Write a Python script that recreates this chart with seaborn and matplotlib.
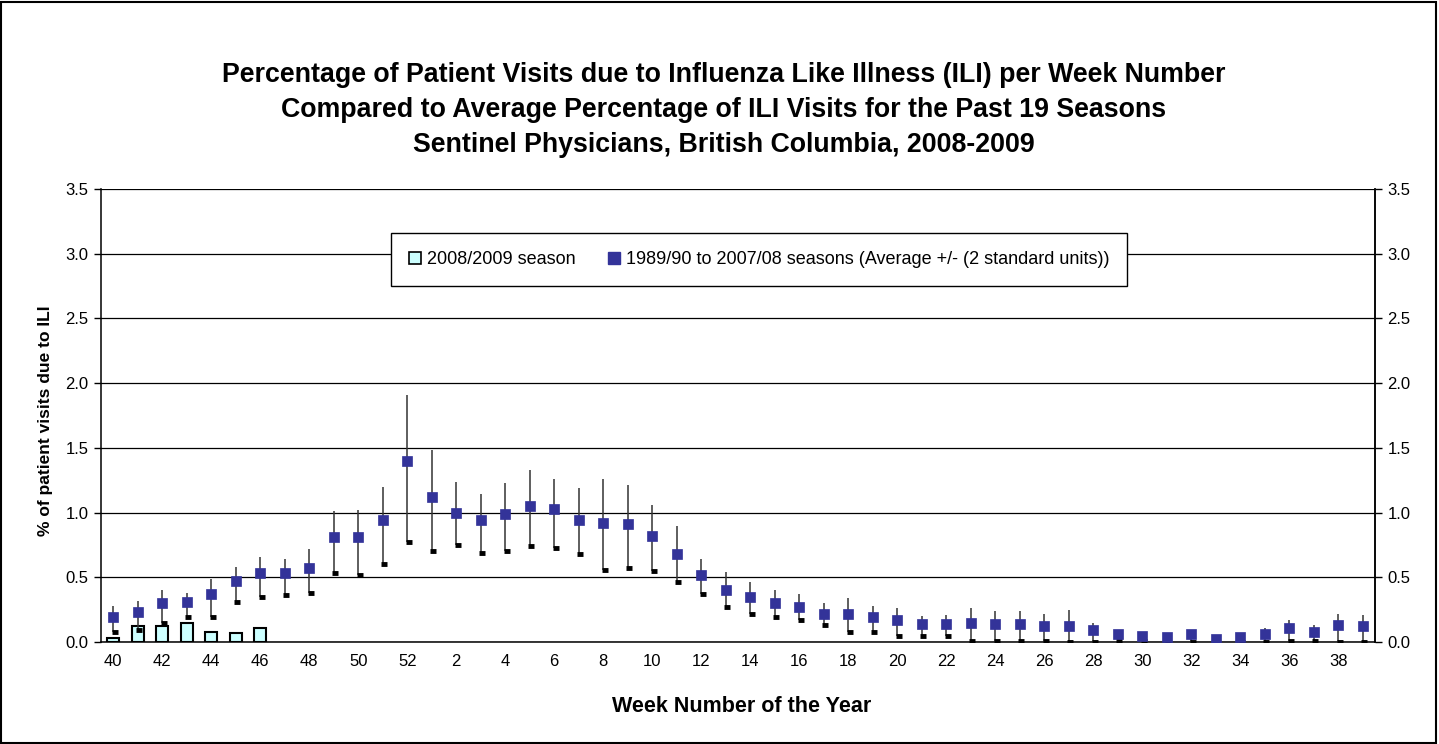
import numpy as np
import pandas as pd
import matplotlib
matplotlib.use("Agg")
import matplotlib.pyplot as plt
from matplotlib.lines import Line2D
from matplotlib.patches import Rectangle
import seaborn as sns

# ---------------- data ----------------
weeks = [str(w) for w in list(range(40, 53)) + list(range(1, 40))]
season_2008 = [0.03, 0.12, 0.12, 0.15, 0.08, 0.07, 0.11] + [np.nan] * 45
avg = [0.19, 0.23, 0.30, 0.31, 0.37, 0.47, 0.53, 0.53, 0.57, 0.81, 0.81, 0.94, 1.40,
       1.12, 1.00, 0.94, 0.99, 1.05, 1.03, 0.94, 0.92, 0.91, 0.82, 0.68, 0.52, 0.40,
       0.35, 0.30, 0.27, 0.22, 0.22, 0.19, 0.17, 0.14, 0.14, 0.15, 0.14, 0.14, 0.12,
       0.12, 0.09, 0.06, 0.05, 0.035, 0.06, 0.02, 0.035, 0.06, 0.11, 0.08, 0.13, 0.12]
high = [0.28, 0.32, 0.40, 0.38, 0.49, 0.58, 0.66, 0.64, 0.72, 1.01, 1.02, 1.20, 1.91,
        1.48, 1.24, 1.14, 1.23, 1.33, 1.26, 1.19, 1.26, 1.21, 1.06, 0.90, 0.64, 0.54,
        0.46, 0.40, 0.37, 0.30, 0.34, 0.28, 0.26, 0.20, 0.21, 0.26, 0.24, 0.24, 0.22,
        0.25, 0.15, 0.08, 0.08, 0.05, 0.08, 0.03, 0.05, 0.11, 0.17, 0.13, 0.22, 0.21]
low = [0.08, 0.09, 0.15, 0.19, 0.19, 0.31, 0.35, 0.36, 0.38, 0.53, 0.52, 0.60, 0.77,
       0.70, 0.75, 0.69, 0.70, 0.74, 0.73, 0.68, 0.56, 0.57, 0.55, 0.46, 0.37, 0.27,
       0.22, 0.19, 0.17, 0.13, 0.08, 0.08, 0.05, 0.05, 0.05, 0.01, 0.01, 0.01, 0.01,
       0.0, 0.0, 0.01, 0.01, 0.0, 0.0, 0.0, 0.0, 0.0, 0.01, 0.01, 0.0, 0.0]
yticks = [0.0, 0.5, 1.0, 1.5, 2.0, 2.5, 3.0, 3.5]

title_lines = ["Percentage of Patient Visits due to Influenza Like Illness (ILI) per Week Number",
               "Compared to Average Percentage of ILI Visits for the Past 19 Seasons",
               "Sentinel Physicians, British Columbia, 2008-2009"]
legend_labels = ["2008/2009 season",
                 "1989/90 to 2007/08 seasons (Average +/- (2 standard units))"]

df = pd.DataFrame({"week": weeks, "season": season_2008, "avg": avg,
                   "high": high, "low": low})

# ---------------- style ----------------
sns.set_style("white")
plt.rcParams['font.family'] = ['Liberation Sans', 'DejaVu Sans']
plt.rcParams['text.color'] = 'black'
plt.rcParams['xtick.color'] = 'black'
plt.rcParams['ytick.color'] = 'black'
plt.rcParams['axes.labelcolor'] = 'black'

BAR_C = "#CCFFFF"
MK_C = "#333399"
TICK_FS = 12

fig = plt.figure(figsize=(14.39, 7.44), dpi=100)
ax = fig.add_axes([101 / 1439, 1 - 642 / 744, 1274 / 1439, 453 / 744])

# bars for the current season
sns.barplot(data=df, x="week", y="season", order=weeks, color=BAR_C,
            edgecolor="black", linewidth=1.5, width=0.5, saturation=1,
            errorbar=None, ax=ax, zorder=2)

# high-low lines
xpos = np.arange(len(weeks))
ax.vlines(xpos, df["low"], df["high"], color="#333333", linewidth=1.1, zorder=3)
ax.plot(xpos + 0.07, df["low"], linestyle="none", marker="_", markersize=5,
        markeredgewidth=3.5, color="black", zorder=4)

# average markers
sns.pointplot(data=df, x="week", y="avg", order=weeks, color=MK_C,
              linestyle="none", marker="s", markersize=7, markeredgewidth=0.5,
              errorbar=None, ax=ax, zorder=5)

ax.set_xlim(-0.5, len(weeks) - 0.5)
ax.set_ylim(0, 3.5)
ax.set_yticks(yticks)
ax.set_yticklabels([f"{v:.1f}" for v in yticks])

# x tick labels every other week; tick marks at category boundaries
ax.set_xticks(xpos[::2])
ax.set_xticklabels(weeks[::2])
ax.set_xticks(np.arange(-0.5, len(weeks), 1.0), minor=True)
ax.tick_params(axis="x", which="major", length=0, pad=9, labelsize=TICK_FS)
ax.tick_params(axis="x", which="minor", length=5, width=1, direction="out", color="black")
ax.tick_params(axis="y", which="major", length=5, width=1, direction="out",
               labelsize=TICK_FS, color="black", pad=4, left=True)

ax.yaxis.grid(True, color="black", linewidth=0.9)
ax.xaxis.grid(False)
ax.set_axisbelow(True)

for s in ["left", "right", "bottom"]:
    ax.spines[s].set_visible(True)
    ax.spines[s].set_color("black")
    ax.spines[s].set_linewidth(1.1)
ax.spines["top"].set_visible(False)

ax.set_xlabel("")
ax.set_ylabel("")

# right axis mirror
ax2 = ax.twinx()
ax2.set_ylim(0, 3.5)
ax2.set_yticks(yticks)
ax2.set_yticklabels([f"{v:.1f}" for v in yticks])
ax2.tick_params(axis="y", length=5, width=1, direction="out", labelsize=TICK_FS,
                color="black", pad=4, right=True)
for s in ax2.spines.values():
    s.set_visible(False)
ax2.spines["right"].set_visible(True)
ax2.spines["right"].set_color("black")
ax2.spines["right"].set_linewidth(1.1)

# labels
fig.text(742 / 1439, 1 - 707 / 744, "Week Number of the Year", ha="center",
         va="center", fontsize=15.5, fontweight="bold")
fig.text(46 / 1439, 1 - 421 / 744, "% of patient visits due to ILI", ha="center",
         va="center", rotation=90, fontsize=12.5, fontweight="bold")

for line, yp in zip(title_lines, [75, 110, 145]):
    fig.text(724 / 1439, 1 - yp / 744, line, ha="center", va="center",
             fontsize=19.3, fontweight="bold")

# legend
handles = [Line2D([], [], linestyle="none", marker="s", markersize=8,
                  markerfacecolor=BAR_C, markeredgecolor="black", markeredgewidth=1.2),
           Line2D([], [], linestyle="none", marker="s", markersize=8,
                  markerfacecolor=MK_C, markeredgecolor=MK_C)]
leg = ax2.legend(handles, legend_labels, loc="center", bbox_to_anchor=(0.5165, 0.844),
                 ncol=2, fontsize=13, frameon=True, fancybox=False, shadow=False,
                 borderpad=1.0, handlelength=0.7, handletextpad=0.3, columnspacing=1.8,
                 borderaxespad=0)
leg.get_frame().set_edgecolor("black")
leg.get_frame().set_linewidth(1.0)
leg.get_frame().set_facecolor("white")
leg.get_frame().set_alpha(1)

# outer figure border
fig.patches.append(Rectangle((0.001, 0.002), 0.997, 0.995, transform=fig.transFigure,
                             fill=False, edgecolor="black", linewidth=1.5))

fig.savefig("out.png", dpi=100)
